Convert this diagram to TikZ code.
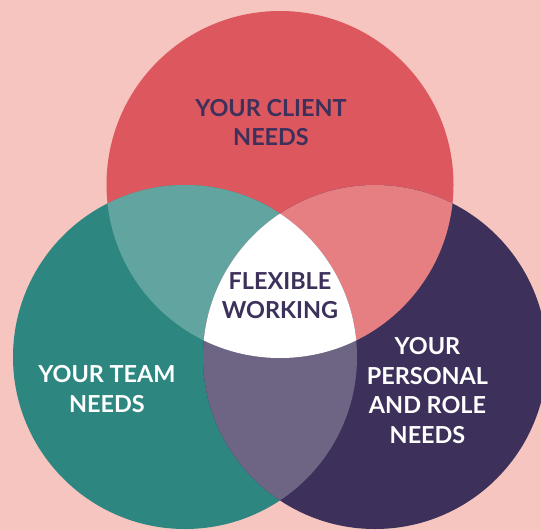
\documentclass[tikz,border=0pt]{standalone}
\usepackage{fontspec}
\setmainfont{Lato}

\definecolor{bgpink}{HTML}{F7C5BF}
\definecolor{clientred}{HTML}{DC585E}
\definecolor{teamteal}{HTML}{2D8780}
\definecolor{rolepurple}{HTML}{3D305B}
\definecolor{clientteam}{HTML}{62A5A0}
\definecolor{clientrole}{HTML}{E67F82}
\definecolor{teamrole}{HTML}{6E6484}

\begin{document}
\begin{tikzpicture}[x=1bp, y=-1bp,
    needs/.style={align=center, inner sep=0pt, font=\bfseries\fontsize{23.5}{29.5}\selectfont},
    dark/.style={needs, text=rolepurple},
    light/.style={needs, text=white}]
	\fill[bgpink] (0,0) rectangle (541,530);
	\useasboundingbox (0,0) rectangle (541,530);

	% circle centres
	\coordinate (client) at (280,184.5);
	\coordinate (team) at (185,357);
	\coordinate (role) at (375,357);
	\def\rclient{173.5bp}
	\def\rside{172bp}

	\fill[clientred] (client) circle[radius=\rclient];
	\fill[teamteal] (team) circle[radius=\rside];
	\fill[rolepurple] (role) circle[radius=\rside];

	% pairwise overlaps
	\begin{scope}
		\clip (client) circle[radius=\rclient];
		\fill[clientteam] (team) circle[radius=\rside];
		\fill[clientrole] (role) circle[radius=\rside];
	\end{scope}
	\begin{scope}
		\clip (team) circle[radius=\rside];
		\fill[teamrole] (role) circle[radius=\rside];
		% all three
		\clip (role) circle[radius=\rside];
		\fill[white] (client) circle[radius=\rclient];
	\end{scope}

	\node[dark] (clientneeds) at (271,122.5) {YOUR CLIENT\\NEEDS};
	\node[dark] (flexible) at (280,295.5) {FLEXIBLE\\WORKING};
	\node[light] (teamneeds) at (107,389) {YOUR TEAM\\NEEDS};
	\node[light] (roleneeds) at (427.5,390.5) {YOUR\\PERSONAL\\AND ROLE\\NEEDS};
\end{tikzpicture}
\end{document}
